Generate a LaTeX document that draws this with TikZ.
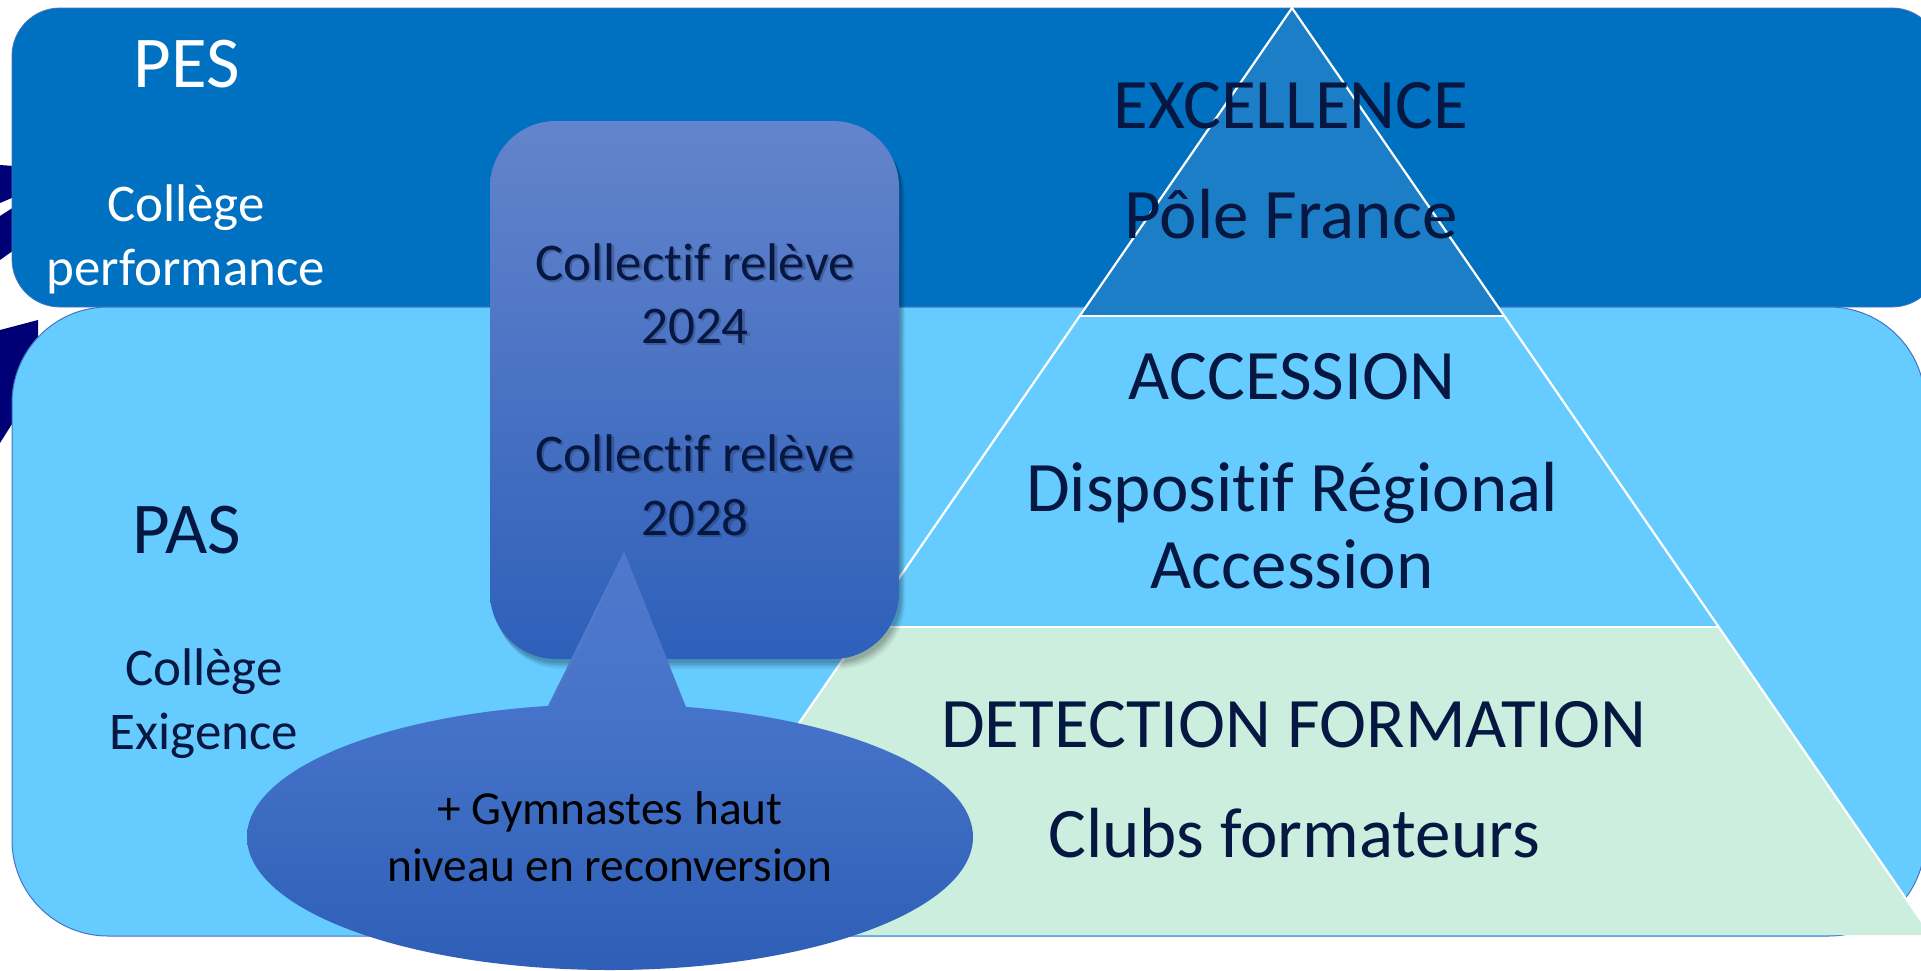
\documentclass[tikz,border=0pt]{standalone}
\usepackage{fontspec}
\setmainfont{Carlito}[Ligatures={NoCommon}]
\definecolor{pesblue}{RGB}{0,112,192}
\definecolor{pasblue}{RGB}{102,204,255}
\definecolor{topblue}{RGB}{28,126,199}
\definecolor{mint}{RGB}{204,238,222}
\definecolor{navytext}{RGB}{6,24,66}
\definecolor{edgeblue}{RGB}{68,114,196}
\definecolor{logonavy}{RGB}{0,0,118}
\definecolor{calltop}{RGB}{100,132,204}
\definecolor{callbot}{RGB}{46,96,186}
\definecolor{elltop}{RGB}{70,116,202}
\definecolor{ellbot}{RGB}{46,94,182}
\definecolor{tritop}{RGB}{98,130,204}
\begin{document}
\begin{tikzpicture}[x=0.5pt,y=-0.5pt,
  lbl/.style={inner sep=0pt, anchor=base, align=center},
  big/.style={font=\fontsize{36.5}{44}\selectfont},
  mid/.style={font=\fontsize{35.5}{43}\selectfont},
  small/.style={font=\fontsize{26.5}{32}\selectfont},
  tiny/.style={font=\fontsize{23.7}{28}\selectfont},
  pyrline/.style={draw=white, line width=1.1pt, line join=miter},
  tshadow/.style={text=black, opacity=0.2}]
\clip (0,0) rectangle (1921,970);
\fill[white] (0,0) rectangle (1921,970);

% logo fragments on the left edge
\fill[logonavy] (0,165) -- (14,166) -- (14,197) -- (0,203) -- cycle;
\fill[logonavy] (0,216) -- (14,207) -- (14,250) -- (0,260) -- cycle;
\fill[logonavy] (0,330) -- (38,320) -- (38,420) -- (12,424) -- (0,443) -- cycle;

% PES band
\draw[fill=pesblue, draw=edgeblue, line width=0.4pt, rounded corners=24pt] (12,8) rectangle (1940,307);
% PAS band
\draw[fill=pasblue, draw=edgeblue, line width=0.5pt, rounded corners=48pt] (12,307) rectangle (1925,936);

% pyramid
\coordinate (A) at (1292,8);
\coordinate (L1) at (1080,316);
\coordinate (R1) at (1504,316);
\coordinate (L2) at (866,627);
\coordinate (R2) at (1718,627);
\coordinate (L3) at (653,935);
\coordinate (R3) at (1931,935);
\fill[topblue] (A) -- (L1) -- (R1) -- cycle;
\fill[pasblue] (L1) -- (L2) -- (R2) -- (R1) -- cycle;
\fill[mint] (L2) -- (L3) -- (R3) -- (R2) -- cycle;
\draw[pyrline] (L3) -- (A) -- (R3);
\draw[pyrline] (L1) -- (R1);
\draw[pyrline] (L2) -- (R2);

% callout box with soft shadow
\foreach \s/\o in {10/0.05,8/0.07,6/0.09,4/0.10}{
  \fill[black, opacity=\o, rounded corners=33pt] (490+\s*0.5,121+\s) rectangle (899+\s*0.6,659+\s);
}
\shade[top color=calltop, bottom color=callbot, rounded corners=33pt] (490,121) rectangle (899,659);

% speech ellipse with pointer
\shade[top color=tritop, bottom color=elltop] (624,552) -- (688,712) -- (545,712) -- cycle;
\shade[top color=elltop, bottom color=ellbot] (610,837) ellipse [x radius=181.5pt, y radius=66.5pt];
\shade[top color={rgb,255:red,80;green,120;blue,204}, bottom color=elltop] (560,690) -- (624,552) -- (678,690) -- (683,706) -- (553,706) -- cycle;

% PES texts
\node[lbl, big, text=white] (pes) at (187,87) {PES};
\node[lbl, small, text=white] (perf1) at (186,221) {Collège};
\node[lbl, small, text=white] (perf2) at (186,285) {performance};
% PAS texts
\node[lbl, big, text=navytext] (pas) at (187,553) {PAS};
\node[lbl, small, text=navytext] (exi1) at (204,685) {Collège};
\node[lbl, small, text=navytext] (exi2) at (204,749) {Exigence};

% pyramid texts
\node[lbl, mid, text=navytext] (exc) at (1291,128) {EXCELLENCE};
\node[lbl, mid, text=navytext] (pole) at (1291,238) {Pôle France};
\node[lbl, mid, text=navytext] (acc) at (1292,399) {ACCESSION};
\node[lbl, mid, text=navytext] (dra1) at (1292,511) {Dispositif Régional};
\node[lbl, mid, text=navytext] (dra2) at (1292,588) {Accession};
\node[lbl, mid, text=navytext] (det) at (1294,747) {DETECTION FORMATION};
\node[lbl, mid, text=navytext] (clubs) at (1294,857) {Clubs formateurs};

% callout texts (with shadow)
\node[lbl, small, tshadow] (c1s) at (697.5,282.5) {Collectif relève};
\node[lbl, small, tshadow] (c2s) at (697.5,345.5) {2024};
\node[lbl, small, tshadow] (c3s) at (697.5,473.5) {Collectif relève};
\node[lbl, small, tshadow] (c4s) at (697.5,537.5) {2028};
\node[lbl, small, text=navytext] (c1) at (695,280) {Collectif relève};
\node[lbl, small, text=navytext] (c2) at (695,343) {2024};
\node[lbl, small, text=navytext] (c3) at (695,471) {Collectif relève};
\node[lbl, small, text=navytext] (c4) at (695,535) {2028};

% ellipse texts
\node[lbl, tiny, text=black] (g1) at (610,824) {+ Gymnastes haut};
\node[lbl, tiny, text=black] (g2) at (610,881) {niveau en reconversion};
\end{tikzpicture}
\end{document}
